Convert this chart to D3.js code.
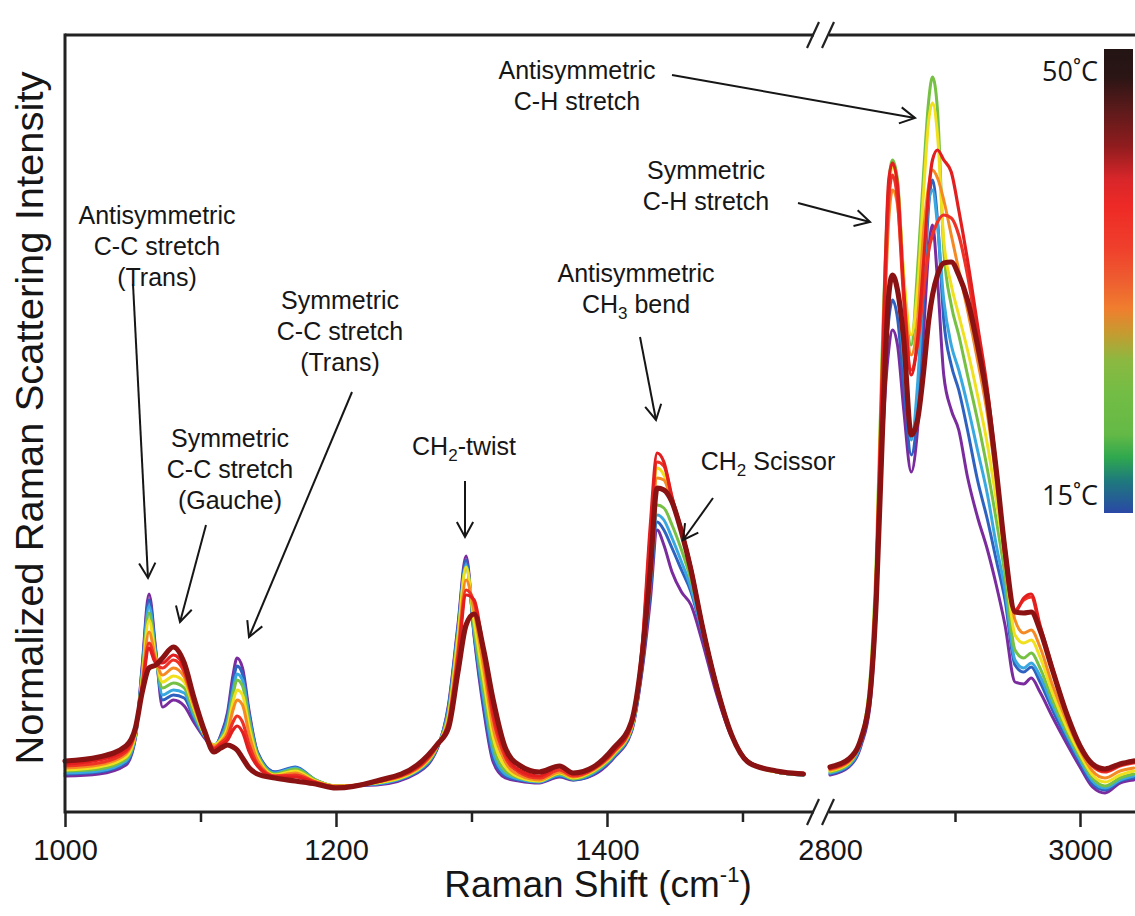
<!DOCTYPE html>
<html><head><meta charset="utf-8">
<script src="https://cdn.jsdelivr.net/npm/d3@7"></script>
<style>html,body{margin:0;padding:0;background:#fff;} svg{display:block;}</style>
</head><body>
<svg id="chart" width="1135" height="916"></svg>
<script>
// ---------------- DATA ----------------
const wavenumbersLow = [1000,1025,1045,1052,1057,1062,1067,1072,1080,1088,1095,1103,1110,1115,1120,1124,1127,1131,1136,1142,1155,1170,1185,1200,1230,1260,1275,1283,1290,1296,1302,1309,1316,1325,1335,1350,1365,1375,1390,1405,1418,1426,1432,1437,1442,1448,1455,1462,1470,1480,1492,1505,1525,1545];
const wavenumbersHigh = [2800,2815,2825,2832,2837,2842,2847,2850,2854,2859,2865,2870,2875,2879,2882,2886,2891,2897,2903,2910,2918,2926,2933,2940,2948,2955,2961,2968,2978,2990,3000,3010,3020,3032,3043];
const temperatures = [15,20,25,30,35,40,43,46,50];

const low15 = [3.6,3.8,4.7,7.4,14.7,21.8,16.2,10.5,11.2,10.6,9.0,7.4,6.4,7.7,10.0,13.7,15.4,14.4,10.0,6.0,4.0,4.1,3.0,2.6,2.7,3.9,6.4,10.7,18.7,25.6,17.5,10.2,5.0,3.4,3.1,2.9,3.5,3.2,3.7,5.4,8.0,14.2,21.2,28.2,26.7,24.0,22.0,20.7,17.2,12.2,7.5,5.0,4.0,3.7];
const low20 = [3.8,4.0,4.9,7.5,14.4,21.2,16.0,11.2,11.7,11.4,9.4,7.5,6.6,7.6,9.7,13.0,14.6,13.8,9.7,6.0,4.0,4.5,3.2,2.6,2.8,4.0,6.5,10.5,18.4,25.2,17.7,10.7,5.4,3.6,3.2,3.0,3.6,3.2,3.8,5.5,8.1,14.5,22.0,29.0,28.2,26.4,24.2,22.0,18.0,12.6,7.6,5.0,4.0,3.7];
const low25 = [3.9,4.1,5.1,7.6,14.0,20.6,15.7,11.7,12.2,11.9,9.7,7.6,6.7,7.4,9.2,12.2,13.8,13.2,9.4,5.8,3.9,4.4,3.2,2.6,2.8,4.1,6.6,10.2,18.0,24.7,18.0,11.4,6.0,3.8,3.3,3.0,3.7,3.3,3.9,5.6,8.2,14.8,22.7,29.7,29.2,27.4,25.0,22.4,18.2,12.8,7.7,5.0,4.0,3.7];
const low30 = [4.1,4.3,5.3,7.7,13.7,19.9,15.5,12.4,12.9,12.4,10.0,7.7,6.7,7.3,8.8,11.7,13.2,12.6,9.0,5.7,3.8,4.3,3.2,2.6,2.9,4.2,6.6,9.9,17.7,24.5,18.4,12.2,6.7,4.1,3.4,3.1,3.8,3.3,4.0,5.7,8.3,15.2,23.4,30.7,30.4,28.7,26.2,23.2,18.6,13.0,7.7,5.0,4.0,3.7];
const low35 = [4.2,4.5,5.5,7.8,13.4,19.2,15.4,13.0,13.6,13.0,10.4,7.7,6.7,7.2,8.4,11.0,12.2,11.7,8.4,5.5,3.7,4.1,3.1,2.6,2.9,4.2,6.7,9.6,17.4,24.5,19.0,13.2,7.5,4.5,3.5,3.1,3.9,3.4,4.1,5.8,8.4,15.6,25.7,34.4,33.7,31.2,28.2,24.4,19.0,13.2,7.8,5.0,4.0,3.8];
const low40 = [4.4,4.7,5.8,8.0,13.0,18.0,15.2,13.7,14.4,13.5,10.7,7.8,6.6,7.0,8.0,10.2,11.2,10.7,7.7,5.2,3.6,3.9,3.0,2.6,3.0,4.3,6.7,9.2,16.4,23.2,20.0,14.4,8.4,5.0,3.7,3.2,4.0,3.5,4.2,5.9,8.5,16.0,25.2,33.4,33.2,30.9,28.0,24.4,19.0,13.2,7.8,5.0,4.1,3.8];
const low43 = [4.6,4.9,6.0,8.1,12.6,16.9,15.0,14.4,15.2,14.0,11.0,7.9,6.4,6.9,7.6,9.0,9.6,9.0,6.7,4.8,3.6,3.7,3.0,2.5,3.0,4.4,6.7,9.0,15.7,22.2,21.0,15.4,9.4,5.5,4.0,3.4,4.2,3.6,4.3,6.0,8.6,16.4,27.7,35.0,34.6,31.4,28.2,24.5,19.0,13.2,7.8,5.0,4.1,3.8];
const low46 = [4.8,5.2,6.2,8.2,12.4,16.4,14.9,14.9,15.7,14.4,11.2,8.0,6.3,6.7,7.2,8.2,8.6,8.0,6.0,4.6,3.5,3.5,2.9,2.5,3.1,4.5,6.8,8.8,15.2,21.7,21.2,16.0,10.0,5.9,4.2,3.6,4.5,3.8,4.4,6.1,8.7,16.7,28.7,35.9,35.0,31.5,28.2,24.4,19.0,13.2,7.8,5.0,4.1,3.9];
const low50 = [5.1,5.5,6.6,8.4,12.0,14.4,14.7,15.4,16.5,14.9,11.5,8.1,6.0,6.4,6.7,6.5,6.2,5.4,4.4,3.8,3.4,3.1,2.8,2.4,3.1,4.7,6.8,8.4,14.0,18.7,19.8,16.2,11.2,6.4,4.7,4.0,4.6,3.9,4.5,6.4,9.0,15.7,24.2,32.4,32.2,31.0,28.0,24.2,18.8,13.0,7.7,4.9,4.1,3.8];

const high15 = [3.7,4.5,6.7,10.7,20.2,37.2,46.2,48.2,46.7,40.2,34.0,38.2,48.2,56.2,58.7,53.2,43.7,40.2,38.2,33.5,29.5,26.2,22.7,18.7,13.0,12.8,13.4,12.0,9.5,6.7,4.5,2.5,1.9,2.9,3.2];
const high20 = [3.8,4.6,6.9,11.2,21.2,39.2,49.2,51.2,49.4,42.7,35.7,40.2,51.2,60.7,63.2,59.2,49.2,44.7,42.2,38.2,33.2,29.2,25.2,21.2,14.7,14.0,14.5,13.0,10.2,7.2,4.9,2.8,2.2,3.1,3.4];
const high25 = [3.9,4.7,7.0,11.7,22.2,40.2,51.2,53.7,52.2,45.2,37.2,42.7,53.7,61.2,62.2,58.7,51.2,46.7,44.2,40.7,36.2,31.7,26.7,22.2,15.2,14.4,14.9,13.6,10.7,7.6,5.2,3.1,2.4,3.2,3.6];
const high30 = [4.0,4.8,7.4,13.2,25.2,47.2,62.7,65.2,63.2,53.2,46.7,54.2,64.2,71.2,73.5,70.2,56.2,50.7,47.7,43.7,39.2,34.2,29.2,23.7,16.2,15.4,15.9,14.4,11.2,7.9,5.5,3.4,2.6,3.4,3.8];
const high35 = [4.1,4.9,7.5,12.9,24.7,46.2,61.7,64.7,62.7,53.7,47.7,52.2,62.2,69.2,70.9,67.7,57.2,52.7,49.7,46.2,41.7,36.7,31.2,25.2,17.7,16.9,17.2,15.5,11.9,8.3,5.8,3.7,3.0,3.7,4.1];
const high40 = [4.2,5.0,7.4,12.2,23.2,43.2,59.2,62.2,60.7,52.2,45.7,49.2,58.2,62.7,64.2,63.4,61.2,57.7,54.2,50.2,45.2,39.7,33.2,26.7,19.2,17.9,18.2,16.5,12.7,8.9,6.2,4.1,3.4,4.1,4.4];
const high43 = [4.3,5.1,7.4,12.2,23.2,44.2,61.2,63.7,61.2,51.2,44.2,46.7,52.2,56.2,57.7,59.0,59.7,59.4,57.7,53.7,47.7,41.7,34.2,25.9,20.2,21.2,21.5,18.4,14.2,9.6,6.6,4.6,4.0,4.6,4.9];
const high46 = [4.4,5.2,7.4,12.2,23.4,45.2,63.2,64.9,62.7,52.2,43.7,47.2,55.2,62.2,65.2,66.2,65.2,64.0,60.2,55.2,48.7,42.2,34.4,25.4,20.0,21.4,21.8,18.7,14.4,9.7,6.7,4.7,4.1,4.7,5.0];
const high50 = [4.5,5.3,7.4,11.7,21.2,38.2,51.7,53.7,52.2,47.2,37.7,39.2,44.2,49.2,51.7,53.7,54.9,55.0,53.7,51.2,46.7,41.2,34.2,26.2,20.0,19.9,20.0,18.2,14.2,9.6,6.6,4.8,4.3,4.8,5.1];

const lowSeries = [low15, low20, low25, low30, low35, low40, low43, low46, low50];
const highSeries = [high15, high20, high25, high30, high35, high40, high43, high46, high50];

const majorTicksLow = [1000, 1200, 1400];
const minorTicksLow = [1100, 1300, 1500];
const majorTicksHigh = [2800, 3000];
const minorTicksHigh = [2900];
const colorbarLabels = ["50˚C", "15˚C"];

// ---------------- STYLE ----------------
const seriesColors = ["#7a2c9e","#2f62c0","#3aa8e0","#76c043","#f0e01e","#f58a24","#ee3326","#e21e1e","#8a1212"];
const seriesWidths = [3.0,3.0,3.0,3.0,3.0,3.0,3.2,3.2,5.2];
const barStops = [
  [0.00,"#231414"],[0.06,"#2b1515"],[0.13,"#5c1a1a"],[0.21,"#901c1e"],[0.28,"#d8262a"],
  [0.34,"#ee2a26"],[0.43,"#ef402c"],[0.50,"#ee5e30"],[0.56,"#f07e2e"],[0.61,"#c89a30"],
  [0.67,"#8cb840"],[0.74,"#73bd45"],[0.83,"#64b946"],[0.88,"#2fa84e"],[0.93,"#1e7a7c"],[1.00,"#2a48a6"]
];

const svg = d3.select("#chart");
const FONT = "'Liberation Sans', Arial, Helvetica, sans-serif";
const ink = "#161616";

const plotTop = 35, plotBottom = 812, plotLeft = 65, plotRight = 1135;
const breakL = 814, breakR = 829;

const xLow = d3.scaleLinear().domain([1000, 1555]).range([plotLeft, 817]);
const xHigh = d3.scaleLinear().domain([2800, 3044]).range([830, plotRight]);
const y = d3.scaleLinear().domain([0, 77.7]).range([plotBottom, plotTop]);

// ---------- spectra ----------
const gLines = svg.append("g").attr("fill", "none").attr("stroke-linejoin", "round").attr("stroke-linecap", "round");
const lineLow = d3.line().x(d => xLow(d[0])).y(d => y(d[1])).curve(d3.curveMonotoneX);
const lineHigh = d3.line().x(d => xHigh(d[0])).y(d => y(d[1])).curve(d3.curveMonotoneX);

temperatures.forEach((t, i) => {
  const lo = wavenumbersLow.map((w, k) => [w, lowSeries[i][k]]).filter(d => d[1] != null);
  const hi = wavenumbersHigh.map((w, k) => [w, highSeries[i][k]]).filter(d => d[1] != null);
  gLines.append("path").attr("d", lineLow(lo)).attr("stroke", seriesColors[i]).attr("stroke-width", seriesWidths[i]);
  gLines.append("path").attr("d", lineHigh(hi)).attr("stroke", seriesColors[i]).attr("stroke-width", seriesWidths[i]);
});

// ---------- frame ----------
const frame = svg.append("g").attr("stroke", "#222").attr("stroke-width", 3).attr("fill", "none");
frame.append("line").attr("x1", plotLeft).attr("x2", plotLeft).attr("y1", plotTop - 1.5).attr("y2", plotBottom + 1.5);
[plotTop, plotBottom].forEach(yy => {
  frame.append("line").attr("x1", plotLeft).attr("x2", breakL).attr("y1", yy).attr("y2", yy);
  frame.append("line").attr("x1", breakR).attr("x2", plotRight).attr("y1", yy).attr("y2", yy);
  [breakL - 1, breakR - 1].forEach(cx => {
    frame.append("line").attr("stroke-width", 2.2)
      .attr("x1", cx - 6).attr("y1", yy + 13).attr("x2", cx + 6).attr("y2", yy - 13);
  });
});

// ---------- axes ----------
function drawAxis(scale, majors, minors) {
  const g = svg.append("g").attr("transform", `translate(0,${plotBottom})`);
  const ax = d3.axisBottom(scale).tickValues(majors).tickSize(15).tickPadding(12).tickFormat(d3.format("d"));
  g.call(ax);
  g.select(".domain").remove();
  g.selectAll(".tick line").attr("stroke", "#222").attr("stroke-width", 2.5)
    .attr("y2", d => d === 2800 ? 0 : 15);
  g.selectAll(".tick text").attr("font-family", FONT).attr("font-size", 29).attr("fill", ink).attr("dy", "0.72em");
  const gm = svg.append("g").attr("transform", `translate(0,${plotBottom})`);
  gm.call(d3.axisBottom(scale).tickValues(minors).tickSize(10).tickFormat(""));
  gm.select(".domain").remove();
  gm.selectAll(".tick line").attr("stroke", "#222").attr("stroke-width", 2.5);
}
drawAxis(xLow, majorTicksLow, minorTicksLow);
drawAxis(xHigh, majorTicksHigh, minorTicksHigh);

// x title
const xt = svg.append("text").attr("x", 598).attr("y", 897).attr("text-anchor", "middle")
  .attr("font-family", FONT).attr("font-size", 37).attr("fill", ink);
xt.append("tspan").text("Raman Shift (cm");
xt.append("tspan").attr("font-size", 22).attr("dy", -15).text("-1");
xt.append("tspan").attr("dy", 15).text(")");

// y title
svg.append("text").attr("transform", "translate(43,418) rotate(-90)").attr("text-anchor", "middle")
  .attr("font-family", FONT).attr("font-size", 39).attr("fill", ink)
  .attr("textLength", 693).attr("lengthAdjust", "spacingAndGlyphs")
  .text("Normalized Raman Scattering Intensity");

// ---------- annotations ----------
const ann = svg.append("g").attr("font-family", FONT).attr("font-size", 25).attr("fill", ink).attr("text-anchor", "middle");
function label(cx, y0, lines) {
  lines.forEach((ln, i) => {
    const t = ann.append("text").attr("x", cx).attr("y", y0 + i * 31);
    if (Array.isArray(ln)) {
      ln.forEach(part => {
        const s = t.append("tspan").text(part.t);
        if (part.sub) s.attr("font-size", 17).attr("dy", 6);
        if (part.up) s.attr("dy", -6);
      });
    } else t.text(ln);
  });
}
function arrow(x1, y1, x2, y2) {
  const g = svg.append("g").attr("stroke", ink).attr("stroke-width", 2).attr("fill", "none");
  g.append("line").attr("x1", x1).attr("y1", y1).attr("x2", x2).attr("y2", y2);
  const a = Math.atan2(y2 - y1, x2 - x1), L = 17, h = 0.5;
  const p1 = [x2 - L * Math.cos(a - h), y2 - L * Math.sin(a - h)];
  const p2 = [x2 - L * Math.cos(a + h), y2 - L * Math.sin(a + h)];
  g.append("path").attr("d", `M${p1[0]},${p1[1]}L${x2},${y2}L${p2[0]},${p2[1]}`);
}

label(577, 79, ["Antisymmetric", "C-H stretch"]);
arrow(672, 75, 915, 118);
label(706, 179, ["Symmetric", "C-H stretch"]);
arrow(798, 203, 870, 222);
label(157, 224, ["Antisymmetric", "C-C stretch", "(Trans)"]);
arrow(133, 284, 148, 578);
label(340, 309, ["Symmetric", "C-C stretch", "(Trans)"]);
arrow(352, 392, 249, 637);
label(230, 447, ["Symmetric", "C-C stretch", "(Gauche)"]);
arrow(206, 525, 180, 622);
label(464, 455, [[{t:"CH"},{t:"2",sub:true},{t:"-twist",up:true}]]);
arrow(465, 481, 465, 537);
label(636, 282, ["Antisymmetric", [{t:"CH"},{t:"3",sub:true},{t:" bend",up:true}]]);
arrow(640, 337, 656, 420);
label(768, 470, [[{t:"CH"},{t:"2",sub:true},{t:" Scissor",up:true}]]);
arrow(713, 498, 683, 540);

// ---------- colorbar ----------
const defs = svg.append("defs");
const grad = defs.append("linearGradient").attr("id", "cbar").attr("x1", 0).attr("x2", 0).attr("y1", 0).attr("y2", 1);
barStops.forEach(s => grad.append("stop").attr("offset", s[0]).attr("stop-color", s[1]));
svg.append("rect").attr("x", 1104).attr("y", 49).attr("width", 29).attr("height", 464).attr("fill", "url(#cbar)");
svg.append("text").attr("x", 1098).attr("y", 81).attr("text-anchor", "end")
  .attr("font-family", "'Open Sans', 'Noto Sans', sans-serif").attr("font-size", 27).attr("fill", ink).text(colorbarLabels[0]);
svg.append("text").attr("x", 1098).attr("y", 505).attr("text-anchor", "end")
  .attr("font-family", "'Open Sans', 'Noto Sans', sans-serif").attr("font-size", 27).attr("fill", ink).text(colorbarLabels[1]);
</script>
</body></html>
